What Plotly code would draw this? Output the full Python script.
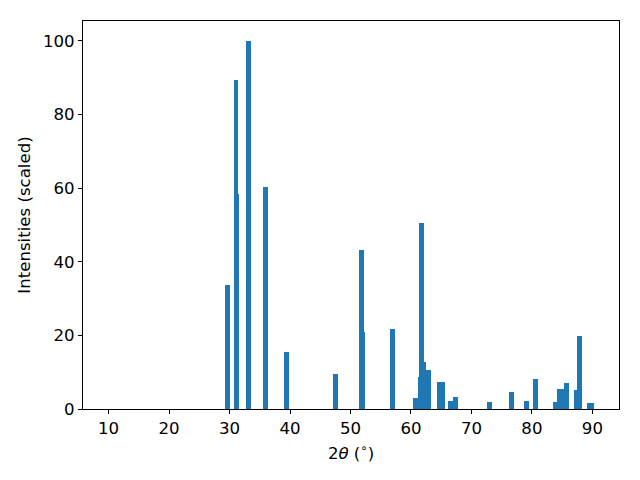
import plotly.graph_objects as go

two_theta = [29.62, 31.06, 31.20, 33.17, 35.98, 39.45, 47.52, 51.83, 52.03, 56.97,
             60.80, 61.55, 61.77, 62.10, 62.90, 64.73, 65.26, 66.58, 67.39, 73.00,
             76.56, 79.12, 80.61, 83.82, 84.60, 85.10, 85.75, 87.37, 87.88, 89.52, 89.88]
intensity = [33.8, 89.4, 58.5, 100.0, 60.4, 15.5, 9.5, 43.1, 20.9, 21.7,
             3.0, 8.7, 50.6, 12.8, 10.6, 7.3, 7.3, 2.2, 3.3, 1.9,
             4.6, 2.2, 8.2, 2.0, 5.4, 5.4, 7.1, 5.2, 19.8, 1.6, 1.6]
x_ticks = [10, 20, 30, 40, 50, 60, 70, 80, 90]
y_ticks = [0, 20, 40, 60, 80, 100]
bar_width = 0.8

fig = go.Figure(go.Bar(
    x=two_theta, y=intensity, width=bar_width,
    marker=dict(color="#1f77b4", line=dict(width=0)),
    showlegend=False,
))

font = dict(family="DejaVu Sans", size=16.6, color="black")
axis_common = dict(
    showline=True, linecolor="black", linewidth=1, mirror=True,
    ticks="outside", ticklen=4, tickwidth=1, tickcolor="black",
    showgrid=False, zeroline=False, tickfont=font, automargin=False,
)
fig.update_layout(
    width=632, height=472,
    margin=dict(l=75, r=21, t=13, b=71),
    plot_bgcolor="white", paper_bgcolor="white",
    barmode="overlay", bargap=0,
    xaxis=dict(range=[5.77, 94.4], tickvals=x_ticks,
               title=dict(text="2<i>θ</i> (<sup>∘</sup>)", font=font, standoff=10),
               **axis_common),
    yaxis=dict(range=[0, 105.4], tickvals=y_ticks,
               title=dict(text="Intensities (scaled)", font=font, standoff=8),
               **axis_common),
)
fig.write_html("out.html")
